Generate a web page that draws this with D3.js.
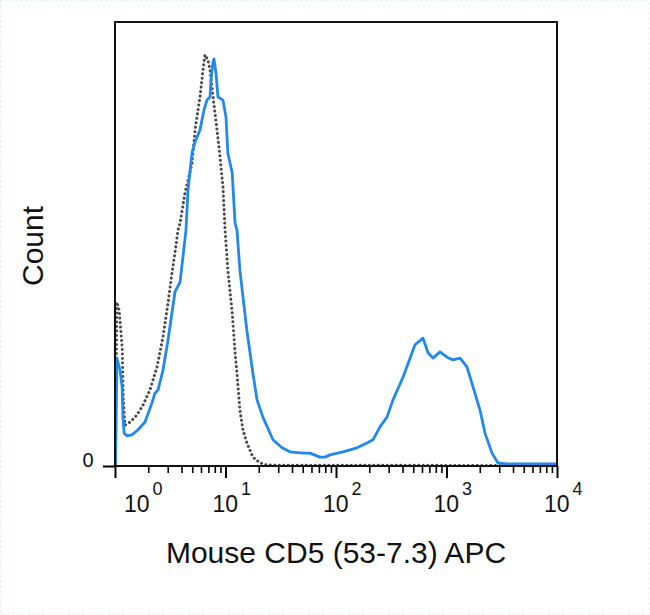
<!DOCTYPE html>
<html>
<head>
<meta charset="utf-8">
<script src="https://cdn.jsdelivr.net/npm/d3@7"></script>
<style>
  html, body { margin: 0; padding: 0; background: #fff; }
  svg { display: block; }
  text { font-family: "Liberation Sans", Arial, sans-serif; fill: #111; }
</style>
</head>
<body>
<svg id="chart" width="650" height="615"></svg>
<script>
// ---- data ----
const blueX = [1.01, 1.04, 1.11, 1.16, 1.18, 1.21, 1.28, 1.42, 1.61, 1.87, 2.16, 2.30, 2.45, 2.72, 3.02, 3.28, 3.49, 3.88, 4.12, 4.39, 4.58, 4.98, 5.30, 5.88, 6.39, 6.80, 7.24, 7.39, 7.71, 7.87, 8.20, 8.55, 9.49, 10.1, 10.5, 11.5, 12.2, 12.7, 13.5, 15.6, 17.7, 19.3, 21.8, 26.9, 32.5, 38.3, 50.3, 58.2, 71.6, 79.5, 88.2, 115.7, 154.9, 190.8, 216.1, 250.1, 289.4, 328.0, 404, 518.6, 612.9, 680.2, 754.9, 873.4, 1010, 1145, 1325, 1533, 1737, 2010, 2231, 2581, 2925, 3528, 10000];
const blueY = [0, 24.3, 21.6, 17.8, 11.0, 7.4, 6.8, 7.0, 8.1, 9.9, 14.2, 16.4, 17.1, 21.6, 28.4, 34.5, 39.2, 41.4, 47.1, 53.2, 62.2, 70.5, 73.0, 75.7, 80.2, 82.4, 83.1, 86.9, 91.0, 91.7, 88.5, 83.1, 82.4, 78.6, 70.5, 66.0, 54.7, 53.2, 44.1, 30.6, 20.9, 14.9, 11.0, 5.9, 4.1, 3.2, 2.9, 2.9, 2.0, 2.0, 2.5, 3.2, 4.1, 5.2, 5.9, 8.8, 11.0, 14.9, 20.0, 27.3, 28.8, 25.5, 24.3, 25.7, 24.5, 23.9, 24.3, 22.3, 17.8, 12.6, 7.4, 2.9, 0.7, 0.45, 0.45];

const grayX = [1.01, 1.04, 1.09, 1.16, 1.19, 1.23, 1.37, 1.58, 1.79, 2.07, 2.40, 2.72, 3.02, 3.28, 3.49, 3.72, 3.88, 4.30, 4.98, 5.30, 5.88, 6.26, 6.52, 6.94, 7.24, 7.71, 8.38, 8.92, 9.49, 9.90, 10.5, 11.5, 12.2, 12.7, 13.5, 14.4, 15.6, 17.7, 20.5, 23.7, 10000];
const grayY = [0, 36.9, 35.1, 26.8, 14.9, 9.2, 9.9, 11.5, 13.7, 17.1, 22.3, 29.1, 36.7, 43.5, 48.0, 53.2, 54.7, 61.5, 68.2, 75.7, 83.1, 89.2, 92.6, 91.4, 89.2, 83.1, 75.7, 69.6, 62.8, 53.2, 44.1, 34.5, 25.5, 20.9, 12.6, 8.1, 5.2, 2.0, 0.7, 0.2, 0.1];

const majorTicks = [1, 10, 100, 1000, 10000];
const majorExp = ["0", "1", "2", "3", "4"];
const minorTicks = [2,3,4,5,6,7,8,9, 20,30,40,50,60,70,80,90, 200,300,400,500,600,700,800,900, 2000,3000,4000,5000,6000,7000,8000,9000];
const xTitle = "Mouse CD5 (53-7.3) APC";
const yTitle = "Count";

// ---- layout ----
const L = 115, R = 557, T = 22, B = 466;
const svg = d3.select("#chart");

// faint dotted image border
svg.append("rect").attr("x", 0.5).attr("y", 0.5).attr("width", 648).attr("height", 613)
  .attr("fill", "none").attr("stroke", "#d6eef2").attr("stroke-width", 1).attr("stroke-dasharray", "2,3");

const x = d3.scaleLog().domain([1, 10000]).range([L, R]);
const y = d3.scaleLinear().domain([0, 100]).range([B, T]);

const line = d3.line().x(d => x(d[0])).y(d => y(d[1]));

const gray = grayX.map((v, i) => [v, grayY[i]]);
const blue = blueX.map((v, i) => [v, blueY[i]]);

// axes ticks
svg.append("g").attr("transform", `translate(0,${B})`)
  .call(d3.axisBottom(x).tickValues(minorTicks).tickSize(7).tickFormat(""))
  .call(g => g.select(".domain").remove())
  .call(g => g.selectAll("line").attr("stroke", "#000").attr("stroke-width", 1.6));
svg.append("g").attr("transform", `translate(0,${B})`)
  .call(d3.axisBottom(x).tickValues(majorTicks).tickSize(12).tickFormat(""))
  .call(g => g.select(".domain").remove())
  .call(g => g.selectAll("line").attr("stroke", "#000").attr("stroke-width", 2));

// y tick "0"
svg.append("g").attr("transform", `translate(${L},0)`)
  .call(d3.axisLeft(y).tickValues([0]).tickSize(12).tickFormat(""))
  .call(g => g.select(".domain").remove())
  .call(g => g.selectAll("line").attr("stroke", "#000").attr("stroke-width", 2));
svg.append("text").attr("x", 88).attr("y", 467).attr("text-anchor", "middle")
  .attr("font-size", 20).text("0");

// gray dotted (isotype)
svg.append("path").datum(gray).attr("d", line)
  .attr("fill", "none").attr("stroke", "#4a4a4a").attr("stroke-width", 3)
  .attr("stroke-linecap", "round").attr("stroke-dasharray", "0.1,4.4");

// blue line
svg.append("path").datum(blue).attr("d", line)
  .attr("fill", "none").attr("stroke", "#2288ec").attr("stroke-width", 2.8)
  .attr("stroke-linejoin", "round");

// frame
svg.append("rect").attr("x", L).attr("y", T).attr("width", R - L).attr("height", B - T)
  .attr("fill", "none").attr("stroke", "#111").attr("stroke-width", 2);

// x tick labels
majorTicks.forEach((v, i) => {
  const off = i === 0 ? 22 : 0;
  const t = svg.append("text").attr("x", x(v) - 13 + off).attr("y", 512).attr("font-size", 23);
  t.append("tspan").text("10");
  t.append("tspan").attr("dx", 3).attr("dy", -17).attr("font-size", 18).text(majorExp[i]);
});

// titles
svg.append("text").attr("x", 336).attr("y", 563).attr("text-anchor", "middle")
  .attr("font-size", 30).text(xTitle);
svg.append("text").attr("transform", "translate(43,246) rotate(-90)").attr("text-anchor", "middle")
  .attr("font-size", 30).text(yTitle);
</script>
</body>
</html>
